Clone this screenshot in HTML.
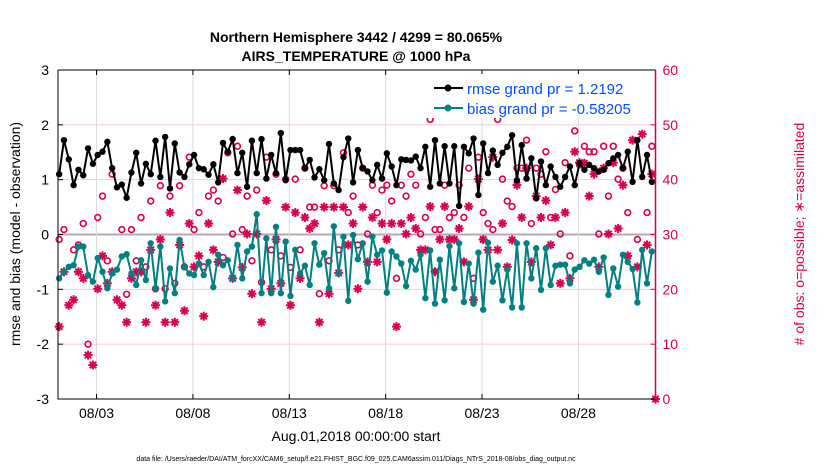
<!DOCTYPE html>
<html><head><meta charset="utf-8"><style>
body{margin:0;background:#fff;}
svg{display:block;font-family:"Liberation Sans",sans-serif;}
</style></head><body>
<svg id="chart" width="830" height="470" viewBox="0 0 830 470">
<text x="356" y="42" text-anchor="middle" font-size="14" font-weight="bold">Northern Hemisphere 3442 / 4299 = 80.065%</text>
<text x="356" y="61" text-anchor="middle" font-size="14" font-weight="bold">AIRS_TEMPERATURE @ 1000 hPa</text>
<text transform="translate(20,234) rotate(-90)" text-anchor="middle" font-size="14">rmse and bias (model - observation)</text>
<text transform="translate(804,234) rotate(-90)" text-anchor="middle" font-size="14" fill="#d6004f"># of obs: o=possible; ∗=assimilated</text>
<text x="356" y="441" text-anchor="middle" font-size="14">Aug.01,2018 00:00:00 start</text>
<text x="356" y="461" text-anchor="middle" font-size="7">data file: /Users/raeder/DAI/ATM_forcXX/CAM6_setup/f.e21.FHIST_BGC.f09_025.CAM6assim.011/Diags_NTrS_2018-08/obs_diag_output.nc</text>
<g id="grid"></g><g id="marks"></g><g id="axes"></g>
<g>
<rect x="420" y="74" width="232" height="44" fill="#fff"/>
<line x1="434" y1="88" x2="463" y2="88" stroke="#000" stroke-width="2"/><circle cx="448" cy="88" r="3.5" fill="#000"/>
<text x="467" y="94" font-size="15" fill="#0050ff">rmse grand pr = 1.2192</text>
<line x1="434" y1="108" x2="463" y2="108" stroke="#008080" stroke-width="2"/><circle cx="448" cy="108" r="3.5" fill="#008080"/>
<text x="467" y="114" font-size="15" fill="#0050ff">bias grand pr = -0.58205</text>
</g>
</svg>
<script>
const rmse=[1.10,1.72,1.37,0.90,1.18,1.08,1.57,1.29,1.45,1.51,1.69,1.21,0.86,0.91,0.67,1.13,1.49,0.93,1.29,1.10,1.71,1.05,1.78,0.84,1.66,1.13,1.05,1.28,1.45,1.21,1.19,1.09,
1.28,0.95,1.67,1.51,1.74,1.12,1.49,0.87,1.71,1.12,1.74,1.02,1.45,1.12,1.85,0.99,1.54,1.54,1.54,1.21,1.36,1.04,1.19,0.99,1.65,0.93,0.81,1.41,1.75,0.95,1.54,
1.21,1.15,0.99,1.27,1.02,1.48,1.24,0.90,1.37,1.36,1.35,1.42,1.21,1.60,0.87,1.72,0.93,1.61,0.93,1.61,0.52,1.60,1.48,1.75,0.72,1.66,1.12,1.53,1.27,1.49,1.60,
1.81,0.99,1.63,1.02,1.39,0.66,1.33,0.90,1.24,1.05,0.87,1.05,1.24,0.90,1.30,1.18,1.27,1.21,1.15,1.18,1.30,1.39,1.45,1.21,1.51,0.96,1.72,1.05,1.45,0.96];
const bias=[-0.80,-0.68,-0.59,-0.56,-0.22,-0.22,-0.74,-0.86,-0.43,-0.68,-0.98,-0.71,-0.64,-0.40,-0.36,-0.71,-0.92,-0.47,-0.83,-0.16,-0.98,-0.22,-1.22,-0.62,-1.07,-0.10,-0.59,-0.71,-0.74,-0.53,-0.74,-0.50,
-0.96,-0.37,-0.56,-0.47,-0.80,-0.19,-0.80,-0.31,-0.22,0.37,-1.07,-0.07,-1.07,0.14,-1.07,-0.13,-1.12,-0.28,-0.71,-0.57,-0.92,-0.16,-0.55,-0.34,-0.98,0.15,-0.71,-0.04,-1.21,-0.01,-0.45,
-0.16,-0.86,-0.04,-0.37,-0.29,-1.06,-0.31,-0.40,-0.53,-0.94,-0.48,-0.64,-0.37,-1.16,-0.29,-1.26,-0.46,-1.20,-0.21,-0.98,-0.16,-1.23,-0.53,-1.26,-0.33,-1.37,-0.15,-0.86,-0.57,-1.20,-0.64,
-1.33,-0.16,-1.33,-0.16,-0.80,-0.25,-1.01,-0.25,-0.92,-0.57,-0.55,-0.55,-0.89,-0.64,-0.59,-0.47,-0.53,-0.46,-0.68,-0.42,-1.10,-0.62,-0.95,-0.37,-0.50,-0.63,-1.24,-0.28,-0.89,-0.31];
const nPossible=[29.1,30.9,null,27.2,28.1,32.0,10.0,null,33.1,37.0,25.2,41.0,null,30.9,19.1,30.9,25.2,33.1,24.1,36.1,20.1,38.9,20.1,37.0,21.1,38.9,24.1,44.1,30.9,34.0,24.1,37.0,
38.1,36.1,25.8,44.9,30.1,46.1,30.9,37.0,25.2,38.1,21.3,44.1,27.2,41.0,26.1,40.1,24.0,40.1,27.2,42.1,35.0,35.0,19.2,38.9,25.2,38.9,27.2,44.9,34.0,37.0,28.1,
42.1,30.1,39.0,34.0,38.1,39.0,36.1,22.0,39.0,37.0,41.0,39.0,30.1,33.1,51.0,30.9,30.9,39.0,33.1,34.0,39.0,33.1,42.1,22.0,44.1,34.0,32.0,30.9,51.0,40.1,36.1,
35.1,42.1,42.1,47.2,32.0,42.1,41.0,45.1,33.1,38.2,30.1,43.1,26.1,48.9,42.7,46.1,45.1,45.1,30.1,46.1,37.0,46.1,40.1,42.1,34.0,52.2,29.1,53.0,34.0,46.1];
const nAssim=[13.2,23.2,17.1,18.1,23.2,22.0,8.0,6.2,20.1,26.1,21.1,23.2,18.1,17.1,14.0,22.0,23.2,23.2,14.0,27.2,17.1,29.1,14.0,34.0,14.0,28.1,16.1,32.0,24.1,26.1,15.1,32.0,
27.2,25.0,40.2,null,22.0,38.1,24.0,30.1,19.2,30.1,14.0,36.2,20.1,29.1,21.1,35.0,17.1,34.0,22.0,33.1,31.1,32.0,14.0,35.0,19.2,35.0,23.0,35.0,28.1,32.0,20.1,
35.0,25.0,33.1,25.0,32.0,29.1,32.0,13.2,32.0,30.1,33.1,31.1,27.2,27.2,35.1,23.2,29.1,35.1,29.1,29.1,31.1,25.0,35.1,18.1,40.1,29.1,27.2,44.1,27.2,32.0,24.1,
29.0,39.0,33.1,42.1,25.0,37.0,33.1,36.2,28.1,33.1,21.1,34.0,22.0,45.1,43.1,43.0,37.0,41.0,24.1,42.1,30.1,43.1,31.1,39.0,26.1,47.2,24.1,48.3,28.1,41.0];
const yTicks=[-3,-2,-1,0,1,2,3];
const yrTicks=[0,10,20,30,40,50,60];
const xTickDays=[2,7,12,17,22,27];
const xTickLabels=["08/03","08/08","08/13","08/18","08/23","08/28"];

const L=58,R=655.5,T=70,B=399;
const xs=t=>L+(t/31)*(R-L);
const ys=v=>B-(v+3)/6*(B-T);
const yr=c=>B-c/60*(B-T);
const NS="http://www.w3.org/2000/svg";
function mk(tag,attrs,parent){const e=document.createElementNS(NS,tag);for(const k in attrs)e.setAttribute(k,attrs[k]);parent.appendChild(e);return e;}
const grid=document.getElementById('grid'),marks=document.getElementById('marks'),axes=document.getElementById('axes');
const RED="#d6004f";
yTicks.forEach(v=>{
  if(v>-3&&v<3){const g=mk('line',{x1:L,x2:R,y1:ys(v),y2:ys(v),stroke:v===0?'#b8a8ac':'#f6cad8','stroke-width':v===0?2:1},grid);
  
  }
  const t=mk('text',{x:L-9,y:ys(v)+5,'text-anchor':'end','font-size':14},axes);t.textContent=v;
  
  
  mk('line',{x1:L,x2:L+5,y1:ys(v),y2:ys(v),stroke:'#000'},axes);
});
yrTicks.forEach(c=>{
  const t=mk('text',{x:R+7,y:yr(c)+5,'font-size':14,fill:RED},axes);t.textContent=c;
  
  
  mk('line',{x1:R-5,x2:R,y1:yr(c),y2:yr(c),stroke:RED},axes);
});
xTickDays.forEach((d,i)=>{
  const x=xs(d);
  const g=mk('line',{x1:x,x2:x,y1:T,y2:B,stroke:'#dcdcdc','stroke-width':1},grid);
  
  
  mk('line',{x1:x,x2:x,y1:B,y2:B-5,stroke:'#000'},axes);
  mk('line',{x1:x,x2:x,y1:T,y2:T+5,stroke:'#000'},axes);
  const t=mk('text',{x:x,y:B+19,'text-anchor':'middle','font-size':14},axes);t.textContent=xTickLabels[i];
  
  
});
const frame=mk('path',{d:`M${L},${T}H${R}M${L},${T}V${B}H${R}`,stroke:'#000',fill:'none','stroke-width':1},axes);


mk('line',{x1:R,x2:R,y1:T,y2:B,stroke:RED,'stroke-width':1.5},axes);
const tOf=i=>i*0.25+0.06;
nPossible.forEach((c,i)=>{if(c===null)return;
  const e=mk('circle',{cx:xs(tOf(i)),cy:yr(c),r:2.9,fill:'none',stroke:RED,'stroke-width':1.6},marks);
  
  });
function star(x,y){const g=mk('g',{stroke:RED,'stroke-width':2},marks);
  for(let k=0;k<4;k++){const a=k*Math.PI/4,dx=4.5*Math.cos(a),dy=4.5*Math.sin(a);mk('line',{x1:x-dx,y1:y-dy,x2:x+dx,y2:y+dy},g);}return g;}
nAssim.forEach((c,i)=>{if(c===null)return;
  const g=star(xs(tOf(i)),yr(c));
  
  });
const sEnd=star(xs(31),yr(0));


function series(arr,color,name){
  const p=mk('polyline',{points:arr.map((v,i)=>xs(tOf(i))+','+ys(v)).join(' '),fill:'none',stroke:color,'stroke-width':2},marks);
  
  
  arr.forEach((v,i)=>{const c=mk('circle',{cx:xs(tOf(i)),cy:ys(v),r:3.2,fill:color},marks);
    
    });
}
series(bias,'#008080','bias');
series(rmse,'#000000','rmse');
</script>
</body></html>
